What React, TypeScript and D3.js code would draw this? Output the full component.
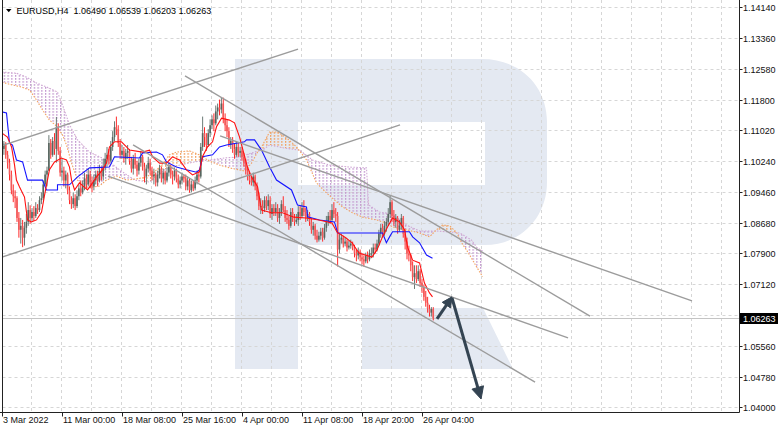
import React from 'react';
import * as d3 from 'd3';

const W = 782;
const H = 430;

// ---------- data (EURUSD H4) ----------
const firstOpen = 1.109;
const closes = [
  1.1055, 1.1068, 1.1040, 1.1020, 1.0990, 1.0950, 1.0935, 1.0930, 1.0880, 1.0850,
  1.0860, 1.0830, 1.0855, 1.0870, 1.0900, 1.0880, 1.0895, 1.0885, 1.0905, 1.0900,
  1.0925, 1.0930, 1.0965, 1.0990, 1.1000, 1.1070, 1.1040, 1.1075, 1.1055, 1.1110,
  1.1050, 1.0995, 1.1000, 1.0975, 1.0990, 1.0950, 1.0925, 1.0915, 1.0930, 1.0910,
  1.0935, 1.0955, 1.0945, 1.0960, 1.0980, 1.0965, 1.0990, 1.0970, 1.0960, 1.0975,
  1.0990, 1.0975, 1.1000, 1.0985, 1.1010, 1.1030, 1.1040, 1.1025, 1.1060, 1.1085,
  1.1110, 1.1105, 1.1070, 1.1040, 1.1050, 1.1030, 1.1045, 1.1050, 1.1025, 1.1005,
  1.1030, 1.1015, 1.1000, 1.1020, 1.1035, 1.1010, 1.0985, 1.1005, 1.1020, 1.1000,
  1.0985, 1.0990, 1.0970, 1.0990, 1.1005, 1.0980, 1.0995, 1.0975, 1.0995, 1.1010,
  1.0990, 1.0985, 1.1000, 1.0980, 1.0965, 1.0975, 1.0985, 1.0980, 1.0960, 1.0975,
  1.0950, 1.0965, 1.0955, 1.0975, 1.0990, 1.0985, 1.1060, 1.1095, 1.1085, 1.1065,
  1.1095, 1.1115, 1.1130, 1.1120, 1.1150, 1.1160, 1.1155, 1.1170, 1.1130, 1.1115,
  1.1100, 1.1065, 1.1075, 1.1055, 1.1040, 1.1060, 1.1045, 1.1050, 1.1035, 1.1020,
  1.1000, 1.0985, 1.0975, 1.0970, 1.0985, 1.0960, 1.0935, 1.0910, 1.0910, 1.0905,
  1.0925, 1.0910, 1.0925, 1.0890, 1.0905, 1.0895, 1.0905, 1.0880, 1.0895, 1.0915,
  1.0900, 1.0880, 1.0875, 1.0860, 1.0895, 1.0880, 1.0870, 1.0875, 1.0895, 1.0885,
  1.0905, 1.0895, 1.0880, 1.0890, 1.0870, 1.0850, 1.0860, 1.0835, 1.0825, 1.0835,
  1.0845, 1.0830, 1.0855, 1.0870, 1.0885, 1.0875, 1.0900, 1.0890, 1.0885, 1.0800,
  1.0825, 1.0830, 1.0815, 1.0820, 1.0805, 1.0810, 1.0815, 1.0805, 1.0790, 1.0785,
  1.0795, 1.0780, 1.0775, 1.0770, 1.0785, 1.0775, 1.0790, 1.0790, 1.0805, 1.0800,
  1.0815, 1.0840, 1.0855, 1.0840, 1.0860, 1.0870, 1.0890, 1.0920, 1.0885, 1.0870,
  1.0880, 1.0850, 1.0860, 1.0880, 1.0840, 1.0820, 1.0790, 1.0785, 1.0760, 1.0730,
  1.0740, 1.0725, 1.0745, 1.0715, 1.0705, 1.0680, 1.0665, 1.0650, 1.0640, 1.0649,
  1.06263,
];
const highs = [
  1.1100, 1.1075, 1.1072, 1.1050, 1.1030, 1.1000, 1.0965, 1.0950, 1.0935, 1.0895,
  1.0880, 1.0875, 1.0870, 1.0890, 1.0920, 1.0912, 1.0905, 1.0910, 1.0920, 1.0915,
  1.0935, 1.0945, 1.0975, 1.1000, 1.1010, 1.1090, 1.1080, 1.1085, 1.1095, 1.1136,
  1.1120, 1.1060, 1.1030, 1.1010, 1.1000, 1.0995, 1.0960, 1.0935, 1.0945, 1.0940,
  1.0950, 1.0965, 1.0975, 1.0975, 1.0995, 1.0990, 1.1005, 1.1000, 1.0985, 1.0990,
  1.1000, 1.1000, 1.1015, 1.1010, 1.1030, 1.1045, 1.1060, 1.1055, 1.1075, 1.1100,
  1.1125, 1.1137, 1.1115, 1.1080, 1.1065, 1.1060, 1.1055, 1.1065, 1.1055, 1.1035,
  1.1040, 1.1045, 1.1025, 1.1030, 1.1050, 1.1040, 1.1020, 1.1015, 1.1035, 1.1030,
  1.1010, 1.1005, 1.0995, 1.1000, 1.1015, 1.1010, 1.1005, 1.1000, 1.1010, 1.1020,
  1.1015, 1.1000, 1.1008, 1.1005, 1.0990, 1.0985, 1.0995, 1.0990, 1.0990, 1.0985,
  1.0980, 1.0975, 1.0975, 1.0985, 1.1000, 1.0998, 1.1070, 1.1137, 1.1110, 1.1095,
  1.1105, 1.1130, 1.1140, 1.1145, 1.1165, 1.1170, 1.1180, 1.1186, 1.1185, 1.1145,
  1.1130, 1.1110, 1.1085, 1.1085, 1.1070, 1.1075, 1.1070, 1.1060, 1.1060, 1.1045,
  1.1030, 1.1010, 1.0995, 1.0985, 1.0995, 1.0990, 1.0970, 1.0945, 1.0930, 1.0925,
  1.0935, 1.0935, 1.0940, 1.0935, 1.0915, 1.0915, 1.0920, 1.0915, 1.0905, 1.0925,
  1.0935, 1.0910, 1.0900, 1.0885, 1.0905, 1.0905, 1.0890, 1.0890, 1.0910, 1.0910,
  1.0920, 1.0925, 1.0905, 1.0900, 1.0895, 1.0880, 1.0870, 1.0865, 1.0850, 1.0845,
  1.0855, 1.0855, 1.0865, 1.0885, 1.0895, 1.0900, 1.0915, 1.0920, 1.0905, 1.0895,
  1.0840, 1.0840, 1.0835, 1.0830, 1.0825, 1.0822, 1.0825, 1.0820, 1.0812, 1.0800,
  1.0805, 1.0800, 1.0790, 1.0785, 1.0792, 1.0795, 1.0800, 1.0805, 1.0815, 1.0815,
  1.0825, 1.0850, 1.0865, 1.0865, 1.0872, 1.0880, 1.0905, 1.0936, 1.0925, 1.0900,
  1.0890, 1.0885, 1.0875, 1.0890, 1.0885, 1.0850, 1.0830, 1.0810, 1.0790, 1.0770,
  1.0760, 1.0760, 1.0760, 1.0750, 1.0725, 1.0710, 1.0695, 1.0680, 1.0660, 1.0654,
  1.06539,
];
const lows = [
  1.1045, 1.1040, 1.1030, 1.1005, 1.0975, 1.0940, 1.0920, 1.0905, 1.0870, 1.0830,
  1.0815, 1.0806, 1.0810, 1.0840, 1.0860, 1.0865, 1.0870, 1.0872, 1.0880, 1.0890,
  1.0895, 1.0915, 1.0925, 1.0960, 1.0960, 1.1000, 1.1030, 1.1035, 1.1040, 1.1020,
  1.1040, 1.0985, 1.0975, 1.0960, 1.0955, 1.0940, 1.0915, 1.0903, 1.0905, 1.0900,
  1.0905, 1.0925, 1.0935, 1.0940, 1.0950, 1.0955, 1.0960, 1.0955, 1.0945, 1.0950,
  1.0965, 1.0960, 1.0970, 1.0975, 1.0975, 1.1000, 1.1010, 1.1015, 1.1020, 1.1050,
  1.1075, 1.1090, 1.1060, 1.1030, 1.1030, 1.1020, 1.1015, 1.1030, 1.1015, 1.0995,
  1.0990, 1.1005, 1.0985, 1.0990, 1.1010, 1.1000, 1.0970, 1.0965, 1.0995, 1.0990,
  1.0975, 1.0965, 1.0960, 1.0960, 1.0980, 1.0970, 1.0965, 1.0965, 1.0970, 1.0985,
  1.0980, 1.0965, 1.0975, 1.0970, 1.0955, 1.0955, 1.0965, 1.0970, 1.0950, 1.0950,
  1.0944, 1.0945, 1.0948, 1.0950, 1.0965, 1.0970, 1.0980, 1.1050, 1.1060, 1.1050,
  1.1060, 1.1085, 1.1105, 1.1100, 1.1115, 1.1130, 1.1140, 1.1145, 1.1120, 1.1100,
  1.1085, 1.1060, 1.1055, 1.1045, 1.1030, 1.1035, 1.1035, 1.1035, 1.1025, 1.1010,
  1.0990, 1.0975, 1.0965, 1.0962, 1.0960, 1.0950, 1.0925, 1.0900, 1.0890, 1.0890,
  1.0895, 1.0900, 1.0900, 1.0880, 1.0875, 1.0885, 1.0885, 1.0870, 1.0865, 1.0885,
  1.0895, 1.0870, 1.0865, 1.0850, 1.0855, 1.0870, 1.0860, 1.0865, 1.0860, 1.0875,
  1.0880, 1.0885, 1.0870, 1.0872, 1.0860, 1.0840, 1.0835, 1.0825, 1.0818, 1.0820,
  1.0825, 1.0820, 1.0825, 1.0845, 1.0860, 1.0865, 1.0870, 1.0880, 1.0870, 1.0757,
  1.0790, 1.0815, 1.0805, 1.0808, 1.0795, 1.0800, 1.0802, 1.0798, 1.0780, 1.0770,
  1.0775, 1.0770, 1.0762, 1.0757, 1.0765, 1.0765, 1.0770, 1.0778, 1.0780, 1.0790,
  1.0795, 1.0810, 1.0830, 1.0830, 1.0835, 1.0845, 1.0860, 1.0880, 1.0870, 1.0860,
  1.0855, 1.0840, 1.0845, 1.0850, 1.0830, 1.0800, 1.0775, 1.0770, 1.0745, 1.0720,
  1.0700, 1.0715, 1.0720, 1.0705, 1.0690, 1.0670, 1.0655, 1.0640, 1.0630, 1.0630,
  1.06203,
];

// Ichimoku lines: [bar index, price]
const tenkan = [
  [0, 1.1095], [2.9, 1.1085], [5.1, 1.106], [6.7, 1.1014], [7.7, 1.0976], [9.3, 1.0959],
  [12, 1.0933], [13.6, 1.0875], [15.7, 1.087], [18.4, 1.0875], [21.1, 1.0895], [22.7, 1.0938],
  [25.3, 1.1002], [28, 1.1022], [31.7, 1.1032], [34.4, 1.1027], [36, 1.1009], [37.1, 1.0976],
  [38.7, 1.0951], [41.3, 1.0969], [45.6, 1.0951], [48.3, 1.0969], [50.4, 1.0984], [53.6, 1.1002],
  [55.7, 1.1019], [57.3, 1.106], [60, 1.1073], [63.7, 1.1073], [66.4, 1.106], [68, 1.1052],
  [74.9, 1.1047], [78.7, 1.1052], [80.3, 1.1035], [84, 1.1019], [87.7, 1.1019], [90.9, 1.1035],
  [94.7, 1.1027], [98.4, 1.1002], [101.6, 1.0989], [105.3, 1.0997], [106.9, 1.1035], [109.6, 1.106],
  [112.3, 1.1073], [114.4, 1.1111], [117.1, 1.1133], [121.3, 1.1128], [124, 1.1121], [126.7, 1.1085],
  [130.9, 1.1009], [133.1, 1.0984], [136.3, 1.0959], [138.4, 1.09], [143.7, 1.0893], [149.6, 1.0893],
  [155.7, 1.0882], [162.1, 1.088], [169, 1.0875], [176, 1.0867], [178.7, 1.0844], [183.5, 1.0829],
  [186.7, 1.0817], [190.4, 1.0791], [197.3, 1.0781], [200, 1.0799], [202.9, 1.0832], [205.6, 1.0857],
  [208.3, 1.088], [212, 1.087], [214.7, 1.085], [216.3, 1.0806], [219, 1.0773], [222.7, 1.0766],
  [225.3, 1.0715], [228, 1.069], [229.6, 1.068],
];
const kijun = [
  [0, 1.1149], [2.4, 1.1146], [4, 1.107], [5.6, 1.1065], [7.7, 1.1027], [11, 1.1022],
  [13.6, 1.0976], [21.6, 1.0976], [23.7, 1.0951], [29.6, 1.0951], [29.6, 1.0964], [36, 1.0964],
  [40.3, 1.0984], [46.7, 1.1007], [57.3, 1.1009], [60, 1.1035], [73.3, 1.1032], [75, 1.1045],
  [82.4, 1.1047], [85.6, 1.104], [87.7, 1.1022], [93, 1.1009], [98.4, 1.1002], [103.7, 1.0996],
  [105.3, 1.1002], [106.4, 1.1022], [107, 1.1035], [112.3, 1.104], [116, 1.106], [119.7, 1.1065],
  [129.3, 1.1073], [130.4, 1.1078], [134.7, 1.1078], [138.4, 1.1052], [142.7, 1.1009], [146.4, 1.0976],
  [154.4, 1.0951], [157.6, 1.0913], [162.4, 1.0908], [163, 1.0883], [169.3, 1.0875], [177.3, 1.087],
  [179, 1.0842], [203, 1.0842], [205, 1.0817], [206.7, 1.0832], [208.3, 1.0845], [217.3, 1.0845],
  [219, 1.0832], [222.7, 1.0817], [226.4, 1.0786], [229.6, 1.0778],
];
const spanA = [
  [0, 1.1224], [5.6, 1.1217], [10.4, 1.1212], [14.7, 1.1204], [18.4, 1.1179], [21.6, 1.1154],
  [25.3, 1.1128], [29.1, 1.1113], [32.3, 1.109], [34.4, 1.1065], [37.1, 1.1019], [40.3, 1.0976],
  [45.1, 1.0956], [52, 1.0961], [55.7, 1.0976], [61.1, 1.0986], [66.4, 1.0976], [71.7, 1.0979],
  [77.1, 1.0984], [81.3, 1.0997], [85.1, 1.1014], [89.3, 1.104], [93.1, 1.1047], [100, 1.105],
  [105.3, 1.104], [110.7, 1.1024], [116, 1.1014], [121.3, 1.1007], [129.3, 1.0999], [133.1, 1.1019],
  [136.3, 1.1047], [139, 1.1065], [142.7, 1.1098], [146.9, 1.1098], [151.7, 1.1083], [157.1, 1.106],
  [162.4, 1.1027], [167.7, 1.0969], [173.1, 1.0943], [181.6, 1.0908], [186.9, 1.0893], [192.3, 1.0882],
  [199.7, 1.0875], [205, 1.0867], [208.3, 1.0857], [215.7, 1.085], [222.7, 1.0842], [228, 1.0832],
  [231.7, 1.085], [234.9, 1.0862], [238.7, 1.086], [242.4, 1.0844], [245.1, 1.0817], [247.7, 1.0799],
  [250.4, 1.0778], [253.1, 1.0756], [256.3, 1.0731],
];
const spanB = [
  [0, 1.125], [7.7, 1.1247], [13.1, 1.1237], [18.4, 1.1222], [25.3, 1.1209], [29.6, 1.1199],
  [32.3, 1.1166], [36, 1.1116], [40.3, 1.1078], [46.7, 1.1047], [52, 1.1035], [57.3, 1.1022],
  [62.7, 1.1002], [70.7, 1.0976], [78.7, 1.0971], [86.7, 1.1002], [94.7, 1.1014], [102.7, 1.1022],
  [110.7, 1.1027], [118.7, 1.1032], [126.7, 1.1035], [134.7, 1.1047], [139, 1.1052], [142.7, 1.1065],
  [150.7, 1.1057], [158.7, 1.1052], [165.6, 1.1027], [174.7, 1.1014], [185.3, 1.1009], [194.4, 1.1007],
  [195.5, 1.0913], [201.3, 1.0895], [208.3, 1.089], [215.7, 1.0862], [222.7, 1.0847], [231.7, 1.0847],
  [244, 1.0842], [247.7, 1.0832], [250.4, 1.0824], [253.1, 1.0806], [256.3, 1.0796],
];

// hand-drawn objects: [bar1, price1, bar2, price2]
const trendLines = [
  [-1.07, 1.1062, 157.9, 1.1308],
  [-1.07, 1.0779, 212.3, 1.1116],
  [97.6, 1.124, 313.6, 1.0631],
  [116.3, 1.1088, 368, 1.067],
  [56.5, 1.0986, 301.9, 1.0576],
  [69.9, 1.1065, 284.3, 1.0464],
];
const arrowsData = [
  [232, 1.0624, 240, 1.068],
  [240, 1.0677, 255.5, 1.0421],
];

const timeLabels = ['3 Mar 2022', '11 Mar 00:00', '18 Mar 08:00', '25 Mar 16:00', '4 Apr 00:00', '11 Apr 08:00', '18 Apr 20:00', '26 Apr 04:00'];
const timeLabelBars = [0, 32, 64, 96, 128, 160, 192, 224];
const priceTicks = [1.0400, 1.0478, 1.0556, 1.0634, 1.0712, 1.0790, 1.0868, 1.0946, 1.1024, 1.1102, 1.1180, 1.1258, 1.1336, 1.1414];
const lastPrice = 1.06263;
const symbolTitle = 'EURUSD,H4  1.06490 1.06539 1.06203 1.06263';

// ---------- layout ----------
const PLOT_L = 2.5;
const PLOT_R = 739.5;
const PLOT_B = 412.5;
const FONT = '"Liberation Sans", Arial, sans-serif';

export default function App() {
  const x = d3.scaleLinear().domain([0, 32]).range([2, 62]);
  const y = d3.scaleLinear().domain([1.04, 1.1414]).range([407.3, 7.3]);

  const line = d3.line().x((d: any) => x(d[0])).y((d: any) => y(d[1]));

  const bars = closes.map((c, i) => ({
    i,
    o: i === 0 ? firstOpen : closes[i - 1],
    h: highs[i],
    l: lows[i],
    c,
  }));

  const aPath = line(spanA as any) as string;
  const bPath = line(spanB as any) as string;
  const bRev = line(spanB.slice().reverse() as any) as string;
  const between = aPath + 'L' + bRev.slice(1) + 'Z';
  const aEnd = spanA[spanA.length - 1][0];
  const bEnd = spanB[spanB.length - 1][0];
  const aboveA = aPath + `L${x(aEnd)},-5L${x(spanA[0][0])},-5Z`;
  const aboveB = bPath + `L${x(bEnd)},-5L${x(spanB[0][0])},-5Z`;

  const vGrid = d3.range(16, 400, 16).map((b) => x(b)).filter((v) => v < PLOT_R - 2);
  const arrowColor = '#344452';
  const lastY = Math.round(y(lastPrice));

  const arrowShapes = arrowsData.map((a, k) => {
    const sx = x(a[0]), sy = y(a[1]), tx = x(a[2]), ty = y(a[3]);
    const dx = tx - sx, dy = ty - sy;
    const len = Math.hypot(dx, dy);
    const ux = dx / len, uy = dy / len;
    const hl = k === 0 ? 10 : 12;
    const hw = k === 0 ? 5 : 6;
    const bx = tx - ux * hl, by = ty - uy * hl;
    const nx = -uy, ny = ux;
    return {
      line: [sx, sy, bx + ux * 1, by + uy * 1],
      head: `M${tx},${ty}L${bx + nx * hw},${by + ny * hw}L${bx - nx * hw},${by - ny * hw}Z`,
    };
  });

  return (
    <svg width={W} height={H} style={{ position: 'absolute', left: 0, top: 0, background: '#fff' }} fontFamily={FONT}>
      <defs>
        <clipPath id="plot">
          <rect x={PLOT_L + 0.5} y={0} width={PLOT_R - PLOT_L - 1} height={PLOT_B} />
        </clipPath>
        <clipPath id="aboveA">
          <path d={aboveA} />
        </clipPath>
        <clipPath id="aboveB">
          <path d={aboveB} />
        </clipPath>
        <pattern id="hatchP" width={3.75} height={3} patternUnits="userSpaceOnUse">
          <rect x={0} y={0} width={1.25} height={1.8} fill="#c49ad0" />
        </pattern>
        <pattern id="hatchO" width={3.75} height={3} patternUnits="userSpaceOnUse">
          <rect x={0} y={0} width={1.25} height={1.8} fill="#f2a060" />
        </pattern>
      </defs>
      <rect x={0} y={0} width={W} height={H} fill="#fff" />

      <g clipPath="url(#plot)">
        {/* watermark */}
        <path
          fillRule="evenodd"
          fill="#e4e9f2"
          d="M235,59L482,59C520,59 547,86 547,122L547,182C547,218 520,245 485,245L298,245L298,369L235,369Z M298,122L485,122L485,185L298,185Z"
        />
        <path fill="#e4e9f2" d="M362,308L483,308L513,369L362,369Z" />

        {/* grid */}
        {priceTicks.map((p) => (
          <line key={'hg' + p} x1={PLOT_L} x2={PLOT_R} y1={Math.round(y(p)) + 0.5} y2={Math.round(y(p)) + 0.5} stroke="#d6d6d6" strokeDasharray="3,3" />
        ))}
        {vGrid.map((v) => (
          <line key={'vg' + v} x1={Math.floor(v) - 0.5} x2={Math.floor(v) - 0.5} y1={0} y2={PLOT_B} stroke="#d6d6d6" strokeDasharray="3,3" />
        ))}

        {/* current price line */}
        <line x1={PLOT_L} x2={PLOT_R} y1={lastY + 0.5} y2={lastY + 0.5} stroke="#c4c4c4" />

        {/* cloud */}
        <g clipPath="url(#aboveA)">
          <path d={between} fill="url(#hatchP)" />
        </g>
        <g clipPath="url(#aboveB)">
          <path d={between} fill="url(#hatchO)" />
        </g>
        <path d={bPath} fill="none" stroke="#cfa8d6" strokeWidth={1.1} strokeDasharray="1.5,1.5" />
        <path d={aPath} fill="none" stroke="#f4a460" strokeWidth={1.1} strokeDasharray="1.5,1.5" />

        {/* candles */}
        {bars.map((d) => {
          const bull = d.c >= d.o;
          const cx = x(d.i);
          const yo = y(d.o), yc = y(d.c);
          const top = Math.min(yo, yc);
          const hgt = Math.max(1, Math.abs(yo - yc));
          return (
            <g key={'c' + d.i}>
              <line x1={cx} x2={cx} y1={y(d.h)} y2={y(d.l)} stroke={bull ? '#6c7b76' : '#ff2b2b'} strokeWidth={1} />
              <rect x={cx - 0.8} y={top} width={1.6} height={hgt} fill={bull ? '#56665f' : '#f25a5a'} />
            </g>
          );
        })}

        {/* Ichimoku tenkan / kijun */}
        <path d={line(kijun as any) as string} fill="none" stroke="#1414ff" strokeWidth={1.1} />
        <path d={line(tenkan as any) as string} fill="none" stroke="#ff1010" strokeWidth={1.1} />

        {/* trend lines */}
        {trendLines.map((t, k) => (
          <line key={'tl' + k} x1={x(t[0])} y1={y(t[1])} x2={x(t[2])} y2={y(t[3])} stroke="#9c9c9c" strokeWidth={1.4} />
        ))}

        {/* arrows */}
        {arrowShapes.map((a, k) => (
          <g key={'ar' + k}>
            <line x1={a.line[0]} y1={a.line[1]} x2={a.line[2]} y2={a.line[3]} stroke={arrowColor} strokeWidth={3} />
            <path d={a.head} fill={arrowColor} stroke={arrowColor} strokeWidth={1} strokeLinejoin="round" />
          </g>
        ))}
      </g>

      {/* frame */}
      <line x1={PLOT_L} x2={PLOT_L} y1={0} y2={PLOT_B} stroke="#222" />
      <line x1={0} x2={PLOT_R} y1={PLOT_B} y2={PLOT_B} stroke="#222" />
      <line x1={PLOT_R} x2={PLOT_R} y1={0} y2={PLOT_B} stroke="#222" />

      {/* price axis */}
      {priceTicks.map((p) => {
        const yy = Math.round(y(p)) + 0.5;
        const hidden = Math.abs(yy - lastY) < 10;
        return (
          <g key={'pt' + p}>
            <line x1={PLOT_R} x2={PLOT_R + 3} y1={yy} y2={yy} stroke="#222" />
            {!hidden && <text x={743} y={yy + 3.2} fontSize={9} fill="#111">{p.toFixed(5)}</text>}
          </g>
        );
      })}
      <rect x={740} y={lastY - 5} width={38} height={11} fill="#000" />
      <text x={743} y={lastY + 3.5} fontSize={9} fill="#fff">{lastPrice.toFixed(5)}</text>

      {/* time axis */}
      {timeLabelBars.map((b, k) => {
        const xx = Math.round(x(b)) + 0.5;
        return (
          <g key={'tt' + b}>
            <line x1={xx} x2={xx} y1={PLOT_B} y2={PLOT_B + 4} stroke="#222" />
            <text x={xx + 0.5} y={423} fontSize={9} fill="#111">{timeLabels[k]}</text>
          </g>
        );
      })}

      {/* title */}
      <path d="M6,9L11.5,9L8.75,12.3Z" fill="#000" />
      <text x={16.5} y={13.5} fontSize={9} fill="#000" style={{ whiteSpace: 'pre' }}>{symbolTitle}</text>
    </svg>
  );
}
